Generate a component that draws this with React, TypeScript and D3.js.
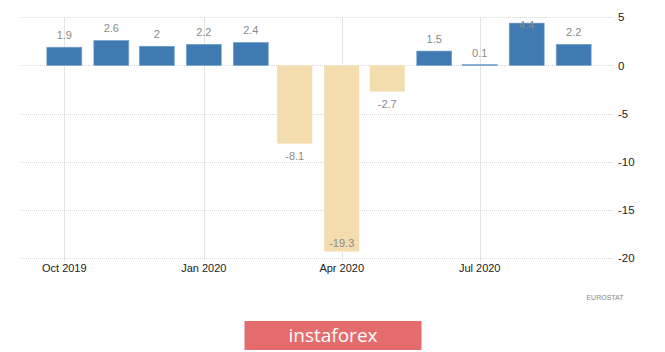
import React from "react";
import * as d3 from "d3";

const months = ["2019-10", "2019-11", "2019-12", "2020-01", "2020-02", "2020-03", "2020-04", "2020-05", "2020-06", "2020-07", "2020-08", "2020-09"];
const values = [1.9, 2.6, 2, 2.2, 2.4, -8.1, -19.3, -2.7, 1.5, 0.1, 4.4, 2.2];
const valueLabels = ["1.9", "2.6", "2", "2.2", "2.4", "-8.1", "-19.3", "-2.7", "1.5", "0.1", "4.4", "2.2"];
const yTicks = [5, 0, -5, -10, -15, -20];
const xTickMonths = ["2019-10", "2020-01", "2020-04", "2020-07"];
const xTickLabels = ["Oct 2019", "Jan 2020", "Apr 2020", "Jul 2020"];

const W = 665;
const H = 352;
const plotLeft = 20;
const plotRight = 614;

const parse = d3.timeParse("%Y-%m");

export default function App() {
  const y = d3.scaleLinear().domain([-20, 5]).range([258.3, 17.3]);
  // time scale anchored so that Oct 2019 -> 64.3 and Jul 2020 -> 479.7
  const x = d3
    .scaleTime()
    .domain([parse("2019-10")!, parse("2020-07")!])
    .range([64.3, 479.7]);
  const barW = 35;
  const font = "'Liberation Sans', Arial, sans-serif";

  return (
    <svg
      width={W}
      height={H}
      style={{ position: "absolute", left: 0, top: 0, background: "#fff" }}
      fontFamily={font}
    >
      {/* vertical gridlines */}
      {xTickMonths.map((m) => {
        const xx = Math.round(x(parse(m)!)) + 0.5;
        return (
          <g key={m}>
            <line x1={xx} x2={xx} y1={y(5)} y2={y(-20) + 3} stroke="#e4e4e4" strokeWidth={1} />
          </g>
        );
      })}
      {/* horizontal gridlines */}
      {yTicks.map((t) => {
        const yy = Math.round(y(t)) + 0.5;
        return (
          <line
            key={t}
            x1={plotLeft}
            x2={plotRight}
            y1={yy}
            y2={yy}
            stroke="#d8d8d8"
            strokeWidth={1}
            strokeDasharray="1,1"
          />
        );
      })}
      {/* bars */}
      {values.map((v, i) => {
        const cx = x(parse(months[i])!);
        const y0 = y(0);
        const yv = y(v);
        const top = Math.min(y0, yv);
        const h = Math.max(Math.abs(yv - y0), 1);
        return (
          <rect
            key={months[i]}
            x={cx - barW / 2}
            y={top}
            width={barW}
            height={h}
            fill={v >= 0 ? "#3f7bb2" : "#f3dcae"}
            stroke={v >= 0 ? "#7aa6cf" : "none"}
            strokeWidth={v >= 0 ? 0.6 : 0}
          />
        );
      })}
      {/* value labels */}
      {values.map((v, i) => {
        const cx = x(parse(months[i])!);
        let ly: number;
        if (v >= 0) {
          ly = Math.max(y(v) - 8, 29);
        } else {
          ly = Math.min(y(v) + 16, y(-20) - 11);
        }
        return (
          <text
            key={"l" + months[i]}
            x={cx}
            y={ly}
            textAnchor="middle"
            fontSize={11}
            fill="#8a8a8a"
          >
            {valueLabels[i]}
          </text>
        );
      })}
      {/* y tick labels */}
      {yTicks.map((t) => (
        <text key={"y" + t} x={618} y={y(t) + 4} fontSize={11.5} fill="#222">
          {String(t)}
        </text>
      ))}
      {/* x tick labels */}
      {xTickMonths.map((m, i) => (
        <text
          key={"x" + m}
          x={x(parse(m)!)}
          y={272}
          textAnchor="middle"
          fontSize={11}
          fill="#222"
        >
          {xTickLabels[i]}
        </text>
      ))}
      <text x={605} y={299.5} textAnchor="middle" fontSize={7} fill="#888">
        EUROSTAT
      </text>
      {/* instaforex badge */}
      <rect x={244.5} y={321} width={177} height={29} fill="#e56c6c" />
      <text
        x={333}
        y={341.5}
        textAnchor="middle"
        fontSize={19}
        fill="#fff"
        fontFamily="'Open Sans', 'Liberation Sans', sans-serif"
      >
        instaforex
      </text>
    </svg>
  );
}
